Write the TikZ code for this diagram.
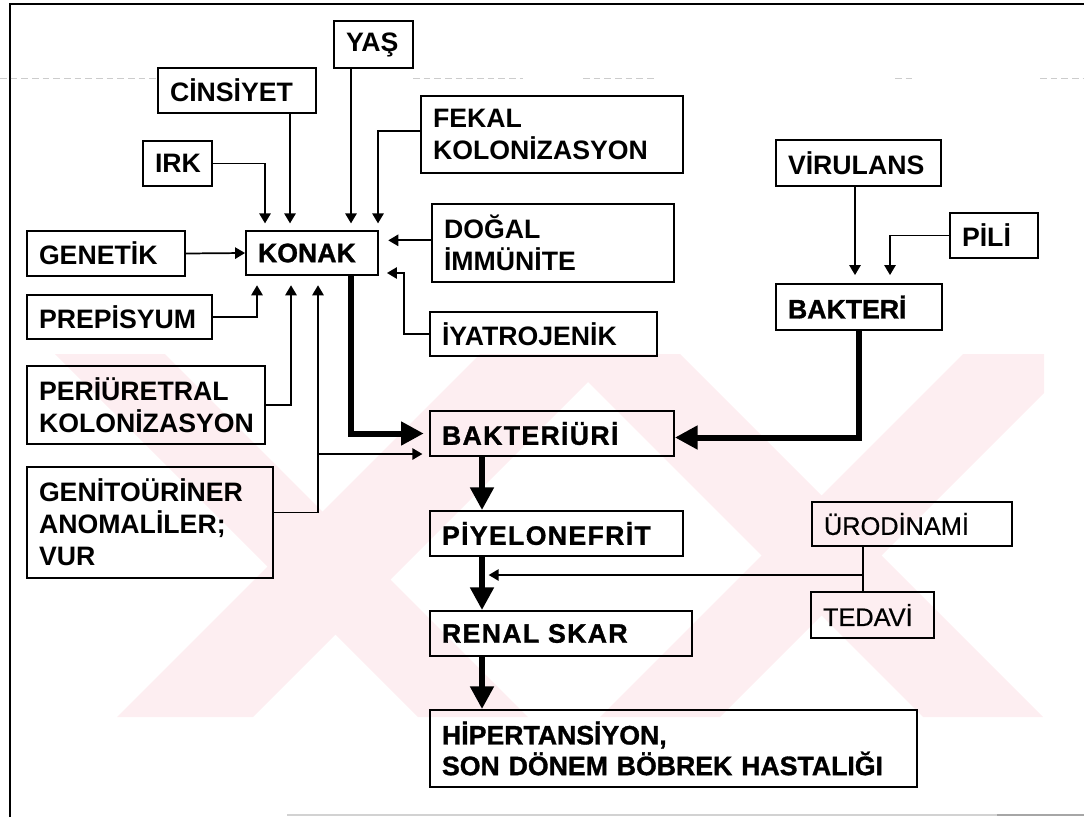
\documentclass[tikz,border=0pt]{standalone}
\usepackage{fontspec}
\setmainfont{Liberation Sans}
\newfontfamily\heavyfont{Liberation Sans Bold}[FakeBold=1.2]
\newfontfamily\medfont{Liberation Sans}[FakeBold=0.6]
\usetikzlibrary{arrows.meta}
\definecolor{wm}{RGB}{253,238,241}
\newcommand\mkbox[7][]{%
  \pgfmathsetmacro\mkW{(#5-#3)*0.75}%
  \pgfmathsetmacro\mkH{(#6-#4)*0.75}%
  \pgfmathsetmacro\mkT{(#5-#3)*0.75-18}%
  \node[box,#1,minimum width=\mkW pt,minimum height=\mkH pt,text width=\mkT pt] (#2) at ({(#3+#5)/2},{(#4+#6)/2}) {#7};}
\begin{document}
\begin{tikzpicture}[x=0.75pt,y=-0.75pt,
  box/.style={draw, line width=1.4pt, inner xsep=9pt, inner ysep=0pt, align=left,
    font=\fontsize{20}{24}\selectfont\bfseries},
  plain/.style={font=\fontsize{19}{23}\selectfont\medfont},
  heavy/.style={font=\fontsize{20}{23}\selectfont\heavyfont},
  wide/.style={font=\fontsize{20}{23}\selectfont\heavyfont\addfontfeature{LetterSpace=5}},
  arr/.style={line width=1.3pt, -{Triangle[length=7.5pt,width=8.5pt]}},
  link/.style={line width=1.3pt},
  bigarr/.style={line width=4.5pt, -{Triangle[length=17pt,width=17pt]}},
  scan/.style={gray!40, line width=0.5pt, dash pattern=on 5pt off 3pt}
]
\useasboundingbox (0,0) rectangle (1084,817);
% watermark
\begin{scope}
\clip (55,354) rectangle (1044,717);
\fill[wm] (55,354) -- (165,354) -- (528,717) -- (418,717) -- cycle;
\fill[wm] (117,717) -- (253,717) -- (616,354) -- (480,354) -- cycle;
\fill[wm] (560,354) -- (680,354) -- (1043,717) -- (923,717) -- cycle;
\fill[wm] (600,717) -- (720,717) -- (1083,354) -- (963,354) -- cycle;
\end{scope}
% frame and scan artefacts
\draw[line width=1.3pt] (10,817) -- (10,4) -- (1084,4);
\draw[scan] (0,78) -- (158,78);
\draw[scan] (413,78) -- (523,78);
\draw[scan] (583,78) -- (657,78);
\draw[scan] (895,78) -- (915,78);
\draw[scan] (1040,78) -- (1084,78);
\draw[gray!35, line width=0.8pt] (287,815) -- (1084,815);
\draw[gray!70, line width=1.5pt] (997,815) -- (1084,815);
% boxes
\mkbox{yas}{334}{21}{413}{68}{YAŞ}
\mkbox{cins}{158}{68}{316}{113}{CİNSİYET}
\mkbox{irk}{143}{141}{212}{186}{IRK}
\mkbox{fekal}{421}{96}{683}{173}{FEKAL\\KOLONİZASYON}
\mkbox{dogal}{432}{204}{674}{282}{DOĞAL\\İMMÜNİTE}
\mkbox{genetik}{27}{231}{185}{276}{GENETİK}
\mkbox[heavy]{konak}{246}{231}{378}{275}{KONAK}
\mkbox{prep}{27}{295}{212}{339}{PREPİSYUM}
\mkbox{iyat}{430}{312}{657}{356}{İYATROJENİK}
\mkbox{peri}{27}{366}{265}{444}{PERİÜRETRAL\\KOLONİZASYON}
\mkbox[wide]{bakteriuri}{430}{411}{674}{456}{BAKTERİÜRİ}
\mkbox{geni}{27}{467}{273}{578}{GENİTOÜRİNER\\ANOMALİLER;\\VUR}
\mkbox{vir}{776}{140}{941}{186}{VİRULANS}
\mkbox{pili}{950}{213}{1038}{258}{PİLİ}
\mkbox[heavy]{bakteri}{776}{284}{942}{330}{BAKTERİ}
\mkbox[wide]{piy}{430}{511}{683}{556}{PİYELONEFRİT}
\mkbox[plain]{uro}{812}{502}{1012}{546}{ÜRODİNAMİ}
\mkbox[plain]{ted}{811}{592}{934}{638}{TEDAVİ}
\mkbox[wide]{renal}{430}{611}{692}{656}{RENAL SKAR}
\mkbox[heavy]{hip}{430}{710}{917}{787}{HİPERTANSİYON,\\SON DÖNEM BÖBREK HASTALIĞI}
% routing columns
\coordinate (cYas) at (351,0);
\coordinate (cCins) at (290,0);
\coordinate (cIrk) at (265,0);
\coordinate (cFek) at (378,0);
\coordinate (cPrep) at (257,0);
\coordinate (cPeri) at (291,0);
\coordinate (cGeni) at (318,0);
\coordinate (cIy) at (404,273);
\coordinate (gbr) at (318,454);
\coordinate (cMain) at (482,0);
\coordinate (cVir) at (855,0);
\coordinate (cPili) at (890,0);
\coordinate (cUro) at (863,0);
\coordinate (cJ) at (863,575);
% connectors into KONAK
\draw[arr, shorten >=5pt] (yas.south -| cYas) -- (konak.north -| cYas);
\draw[arr, shorten >=5pt] (cins.south -| cCins) -- (konak.north -| cCins);
\draw[arr, shorten >=5pt] (irk.east) -| (konak.north -| cIrk);
\draw[arr, shorten >=5pt] ([yshift=2.6pt]fekal.west) -| (konak.north -| cFek);
\draw[arr, shorten >=7pt] ([yshift=2pt]dogal.west) -- ([yshift=2pt]dogal.west -| konak.east);
\draw[arr] (genetik.east) -- (konak.west);
\draw[arr, shorten >=7pt] (prep.east) -| (konak.south -| cPrep);
\draw[arr, shorten >=7pt] (peri.east) -| (konak.south -| cPeri);
\draw[arr, shorten >=7pt] ([yshift=7.5pt]geni.east) -| (konak.south -| cGeni);
\draw[arr, shorten >=5pt] (gbr) -- (gbr -| bakteriuri.west);
\draw[arr, shorten >=6pt] (iyat.west) -| (cIy) -- (cIy -| konak.east);
% main pathway
\draw[bigarr, shorten >=4pt] (konak.south -| cYas) |- (bakteriuri.west);
\draw[bigarr] (bakteri.south) |- ([yshift=-3pt]bakteriuri.east);
\draw[bigarr] (bakteriuri.south -| cMain) -- (piy.north -| cMain);
\draw[bigarr] (piy.south -| cMain) -- (renal.north -| cMain);
\draw[bigarr] (renal.south -| cMain) -- (hip.north -| cMain);
% bacteria side
\draw[arr, shorten >=6pt] (vir.south -| cVir) -- (bakteri.north -| cVir);
\draw[arr, shorten >=6pt] (pili.west) -| (bakteri.north -| cPili);
% urodynamics / treatment
\draw[link] (uro.south -| cUro) -- (ted.north -| cUro);
\draw[arr, shorten >=5pt] (cJ) -- (cJ -| cMain);
\end{tikzpicture}
\end{document}
